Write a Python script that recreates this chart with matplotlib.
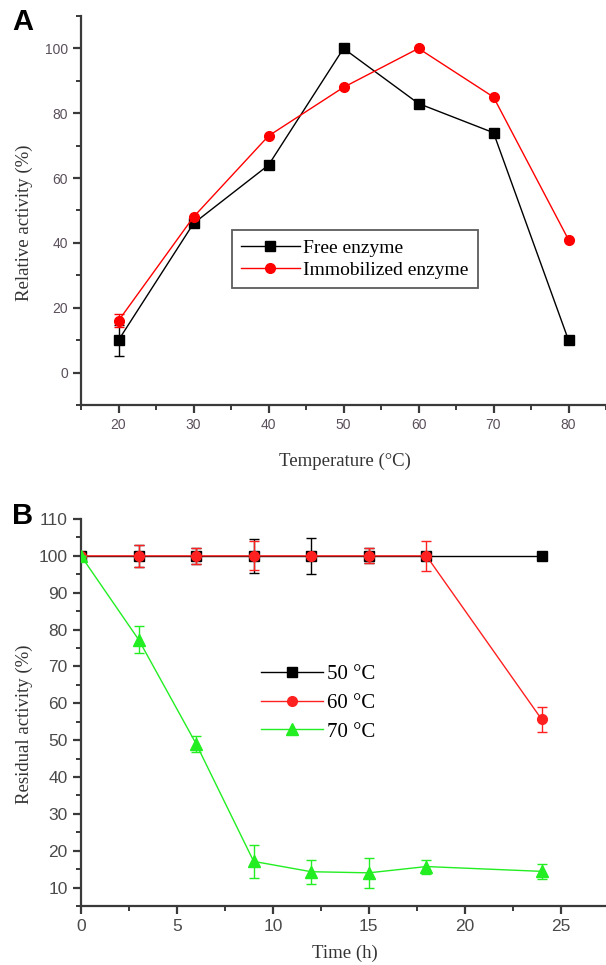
import matplotlib
matplotlib.use("Agg")
import matplotlib.pyplot as plt
from matplotlib.ticker import MultipleLocator

# panel A: temperature profile
temps = [20, 30, 40, 50, 60, 70, 80]
free_act = [10, 46, 64, 100, 83, 74, 10]
free_err = [4.8, 0, 0, 0, 0, 0, 0]
immob_act = [16, 48, 73, 88, 100, 85, 41]
immob_err = [2, 0, 0, 0, 0, 0, 0]

# panel B: thermal stability
hours = [0, 3, 6, 9, 12, 15, 18, 24]
act_50 = [100, 100, 100, 100, 100, 100, 100, 100]
err_50 = [0, 3, 2.2, 4.7, 4.8, 2, 1, 0]
act_60 = [100, 100, 100, 100, 100, 100, 100, 55.7]
err_60 = [0, 3, 2.2, 3.9, 0, 2, 4, 3.4]
act_70 = [100, 77.3, 49, 17.1, 14.3, 14, 15.7, 14.4]
err_70 = [0, 3.6, 2.2, 4.4, 3.2, 4, 1.9, 2]

serif = "Liberation Serif"
sans = "Liberation Sans"
spine_col = "#3a3a3a"

fig = plt.figure(figsize=(6.06, 9.65), dpi=100)
axA = fig.add_axes([81/606, 1 - 405/965, 525/606, 389/965])
axB = fig.add_axes([81/606, 1 - 906/965, 525/606, 387/965])


def style_axes(ax, tick_size, tick_col):
    for s in ["top", "right"]:
        ax.spines[s].set_visible(False)
    for s in ["left", "bottom"]:
        ax.spines[s].set_color(spine_col)
        ax.spines[s].set_linewidth(1.6)
    ax.tick_params(which="major", direction="out", length=6, width=1.6,
                   color=spine_col, labelsize=tick_size, labelcolor=tick_col)
    ax.tick_params(which="minor", direction="out", length=3.5, width=1.4,
                   color=spine_col)
    for lab in ax.get_xticklabels() + ax.get_yticklabels():
        lab.set_family(sans)


# ---- A ----
ebA1 = axA.errorbar(temps, free_act, yerr=free_err, color="black", marker="s", ms=7,
                    lw=1.0, capsize=3.5, elinewidth=1.0, zorder=3)
ebA2 = axA.errorbar(temps, immob_act, yerr=immob_err, color="red", marker="o", ms=7,
                    lw=1.0, capsize=3.5, elinewidth=1.0, zorder=4)
axA.set_xlim(15, 85)
axA.set_ylim(-10, 110)
axA.set_xticks(temps)
axA.xaxis.set_minor_locator(MultipleLocator(5))
axA.set_yticks([0, 20, 40, 60, 80, 100])
axA.yaxis.set_minor_locator(MultipleLocator(10))
style_axes(axA, 10, "#5a4f5a")
axA.set_xlabel("Temperature (°C)", family=serif, fontsize=13.5, color="#333333")
axA.xaxis.set_label_coords((345 - 81) / 525, -(453 - 405) / 389)
axA.set_ylabel("Relative activity (%)", family=serif, fontsize=13.5, color="#333333")
axA.yaxis.set_label_coords(-(81 - 33) / 525, (405 - 223) / 389)
legA = axA.legend([ebA1[0], ebA2[0]], ["Free enzyme", "Immobilized enzyme"],
                  loc="center", bbox_to_anchor=((355 - 81) / 525, (405 - 259) / 389),
                  prop={"family": serif, "size": 14}, frameon=True, fancybox=False,
                  edgecolor="#333333", handlelength=3, handletextpad=0.2,
                  borderpad=0.45, labelspacing=0.25)
legA.get_frame().set_linewidth(1.3)
fig.text(12/606, 1 - 22/965, "A", family=sans, fontsize=21, fontweight="bold",
         ha="left", va="center")

# ---- B ----
ebB1 = axB.errorbar(hours, act_50, yerr=err_50, color="black", marker="s", ms=7,
                    lw=1.0, capsize=3.5, elinewidth=1.0, zorder=3)
ebB2 = axB.errorbar(hours, act_60, yerr=err_60, color="#ff2020", marker="o", ms=7,
                    lw=1.0, capsize=3.5, elinewidth=1.0, zorder=4)
ebB3 = axB.errorbar(hours, act_70, yerr=err_70, color="#22ee22", marker="^", ms=8,
                    lw=1.0, capsize=3.5, elinewidth=1.0, zorder=5)
axB.set_xlim(0, 27.36)
axB.set_ylim(5, 110)
axB.set_xticks([0, 5, 10, 15, 20, 25])
axB.xaxis.set_minor_locator(MultipleLocator(2.5))
axB.set_yticks(list(range(10, 111, 10)))
axB.yaxis.set_minor_locator(MultipleLocator(5))
style_axes(axB, 12.5, "#4a4a4a")
axB.set_xlabel("Time (h)", family=serif, fontsize=13.5, color="#333333")
axB.xaxis.set_label_coords((345 - 81) / 525, -(945 - 906) / 387)
axB.set_ylabel("Residual activity (%)", family=serif, fontsize=13.5, color="#333333")
axB.yaxis.set_label_coords(-(81 - 33) / 525, (906 - 724) / 387)
axB.legend([ebB1[0], ebB2[0], ebB3[0]], ["50 °C", "60 °C", "70 °C"],
           loc="center", bbox_to_anchor=((318 - 81) / 525, (906 - 703) / 387),
           prop={"family": serif, "size": 15}, frameon=False, handlelength=3,
           handletextpad=0.2, labelspacing=0.45)
fig.text(12/606, 1 - 516/965, "B", family=sans, fontsize=21, fontweight="bold",
         ha="left", va="center")

fig.savefig("out.png", dpi=100)
